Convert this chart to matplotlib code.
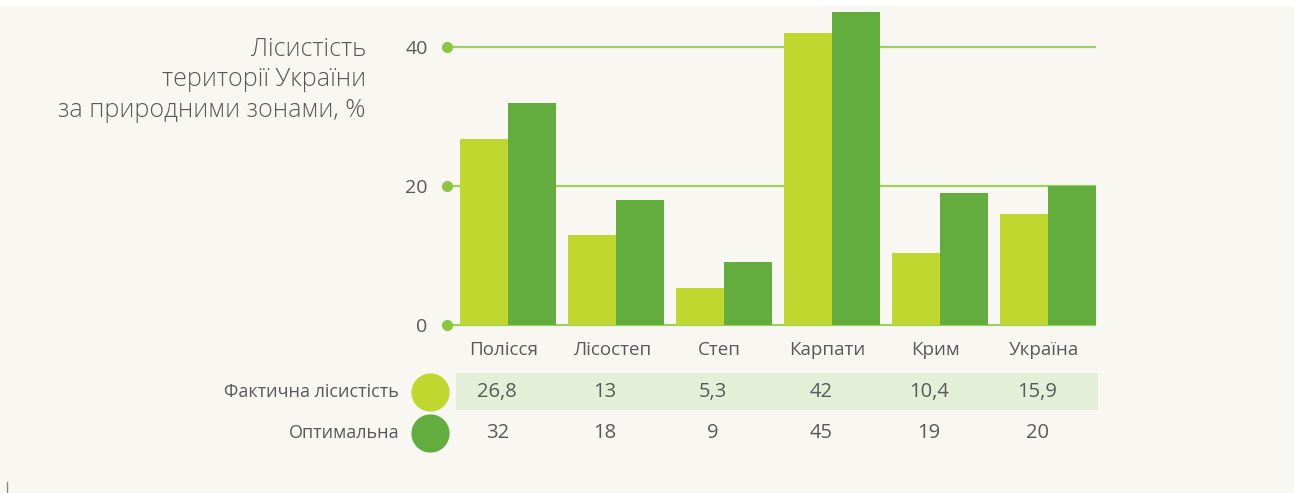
import matplotlib
matplotlib.use("Agg")
import matplotlib.pyplot as plt
from matplotlib.patches import Rectangle
from matplotlib.transforms import blended_transform_factory

categories = ["Полісся", "Лісостеп", "Степ", "Карпати", "Крим", "Україна"]
actual = [26.8, 13, 5.3, 42, 10.4, 15.9]
optimal = [32, 18, 9, 45, 19, 20]
actual_labels = ["26,8", "13", "5,3", "42", "10,4", "15,9"]
optimal_labels = ["32", "18", "9", "45", "19", "20"]
series_names = ["Фактична лісистість", "Оптимальна"]
yticks = [0, 20, 40]
title = "Лісистість\nтериторії України\nза природними зонами, %"

W, H = 1294, 493
BG = "#f9f7f1"
C_LIGHT = "#c0d72f"
C_DARK = "#63ad3f"
C_GRID = "#9dd05f"
C_DOT = "#8dc63f"
C_BAND = "#e3f0d7"
C_TEXT = "#58595b"

plt.rcParams["font.family"] = ["Open Sans", "DejaVu Sans"]

fig = plt.figure(figsize=(W / 100, H / 100), dpi=100)
fig.patch.set_facecolor("white")
# off-white panel below thin white strip
fig.patches.append(Rectangle((0, 0), 1, 1 - 6 / H, transform=fig.transFigure,
                             facecolor=BG, edgecolor="none", zorder=-10))

def fx(px):
    return px / W

def fy(py):
    return 1 - py / H

# main axes
ax_left, ax_right = 447, 1100
ax_bot, ax_top = 325, 6
ax = fig.add_axes([fx(ax_left), fy(ax_bot), fx(ax_right - ax_left), (ax_bot - ax_top) / H])
ax.set_facecolor("none")
pitch = 108.0
x0px = 508.0
xmin = (ax_left - x0px) / pitch
xmax = (ax_right - x0px) / pitch
ax.set_xlim(xmin, xmax)
ax.set_ylim(0, (ax_bot - ax_top) / 6.95)
for s in ax.spines.values():
    s.set_visible(False)

bw = 48 / pitch
xs = list(range(len(categories)))
grid_end = (1096 - x0px) / pitch
for yv in yticks:
    ax.plot([xmin, grid_end], [yv, yv], color=C_GRID, lw=1.6, zorder=1, clip_on=False,
            solid_capstyle="butt")
    ax.plot([xmin], [yv], "o", color=C_DOT, ms=7, zorder=3, clip_on=False)
ax.bar([x - bw / 2 for x in xs], actual, width=bw, color=C_LIGHT, zorder=2)
ax.bar([x + bw / 2 for x in xs], optimal, width=bw, color=C_DARK, zorder=2)

ax.set_yticks(yticks)
ax.set_yticklabels([str(v) for v in yticks], fontsize=14, color=C_TEXT)
ax.tick_params(axis="y", length=0, pad=14)
ax.set_xticks([])

# category labels, table
tr = blended_transform_factory(ax.transData, fig.transFigure)
for x, c in zip(xs, categories):
    ax.text(x - 0.04, fy(350), c, transform=tr, ha="center", va="center",
            fontsize=13.5, color=C_TEXT)

band_l = (456 - x0px) / pitch
band_r = (1098 - x0px) / pitch
ax.add_patch(Rectangle((band_l, fy(410)), band_r - band_l, (410 - 373) / H,
                       transform=tr, facecolor=C_BAND, edgecolor="none",
                       clip_on=False, zorder=0))
for x, a, o in zip(xs, actual_labels, optimal_labels):
    ax.text(x - 0.1, fy(392), a, transform=tr, ha="center", va="center",
            fontsize=14.5, color=C_TEXT)
    ax.text(x - 0.1, fy(433), o, transform=tr, ha="center", va="center",
            fontsize=14.5, color=C_TEXT)

# legend circles and labels
for py, col, name in zip([392, 433], [C_LIGHT, C_DARK], series_names):
    fig.add_artist(plt.Line2D([fx(430)], [fy(py)], marker="o", ms=26.5, color=col,
                              linestyle="none", transform=fig.transFigure))
    fig.text(fx(399), fy(py), name, ha="right", va="center", fontsize=13,
             color=C_TEXT)

# title
fig.text(fx(366), fy(37), title, ha="right", va="top", fontsize=18,
         color=C_TEXT, linespacing=1.28, fontweight="light")

# small mark bottom-left
fig.add_artist(plt.Line2D([fx(7), fx(7)], [fy(482), fy(493)], color="#888888", lw=1,
                          transform=fig.transFigure))

fig.savefig("out.png", dpi=100, facecolor=fig.get_facecolor())
